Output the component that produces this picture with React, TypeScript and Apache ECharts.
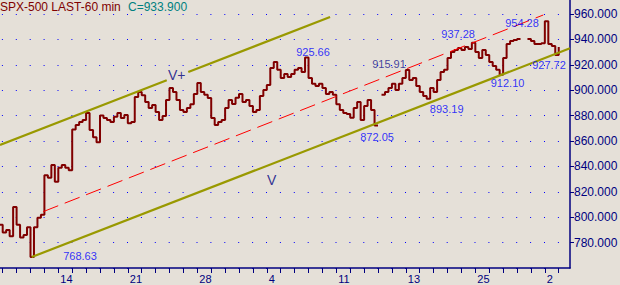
import React, { useEffect, useRef } from 'react';
import * as echarts from 'echarts';

// ---- text ----
const TITLE = 'SPX-500 LAST-60 min';
const LAST_CLOSE = 'C=933.900';

// ---- x axis (trading-day index, one tick per trading day) ----
const X_MIN_DAY = -0.194;
const X_MAX_DAY = 40.81;
const X_TICK_DAYS = [0,1,2,3,4,5,6,7,8,9,10,11,12,13,14,15,16,17,18,19,20,21,22,23,24,25,26,27,28,29,30,31,32,33,34,35,36,37,38,39,40];
const X_LABEL_DAYS = [4, 9, 14, 19, 24, 29, 34, 39];
const X_LABELS = ['14', '21', '28', '4', '11', '13', '25', '2'];

// ---- y axis ----
const Y_MIN = 760;
const Y_MAX = 980;
const Y_STEP = 20;
const Y_TOP_LABEL = 960;

// ---- 60-min price series, sampled every quarter trading day ----
const PRICE_START_DAY = -0.25;
const PRICE_STEP_DAYS = 0.25;
const PRICES: (number | null)[] = [
  794, 788, 790, 785, 808, 794, 784, 786, 792, 768.6,
  792, 799.5, 802, 833, 831, 841, 828, 839, 841, 839,
  837, 869, 872.6, 875, 876.6, 882, 868.7, 863, 859, 880,
  878, 876.6, 875, 879, 882, 878, 880.5, 874, 875, 894.7,
  898.6, 896, 890.7, 886, 888.4, 882.9, 876.6, 879.7, 892.3, 901.8,
  898.6, 892.3, 884.4, 882.9, 886, 889, 897, 905.7, 898.6, 896.3,
  893.9, 878, 872.6, 875, 876.6, 886, 892.3, 889.2, 894, 897,
  890.7, 892.3, 887.6, 882.9, 884.4, 895.5, 900.2, 904, 917.5, 922.2,
  916, 909.6, 912.8, 910.4, 912.8, 916, 917.5, 914.4, 925.7, 909.6,
  905, 903.3, 905, 901.8, 897, 898.6, 896.3, 889, 884.4, 882,
  881.3, 878.2, 886, 890.7, 876.6, 887.6, 892.3, 884.4, 872.1, null,
  896.3, 898.6, 901.8, 905, 900.2, 905, 909.6, 915.9, 908, 909.6,
  903.3, 898.6, 895.5, 893.2, 901.8, 898.6, 908, 914.4, 916, 925.4,
  930, 931.7, 933.2, 931.7, 934, 932.5, 937.3, 930, 925.4, 931.7,
  927.7, 922.2, 919.1, 916, 912.1, 925.4, 936.4, 938.7, 939.5, 940.3,
  null, null, 940.3, 938.7, 936.4, 936.4, 937, 954.3, 936.4, 934.8,
  927.7, 933.9,
];

// ---- trend channel (drawn lines) ----
const UPPER_X = [-0.194, 11.8, 12.5, 13.35, 23.55];
const UPPER_Y: (number | string)[] = [856.9, 907.8, '-', 914.3, 957.6];
const LOWER_X = [2.086, 40.81];
const LOWER_Y = [768.63, 933.0];
const MID_X = [2.92, 38.89];
const MID_Y = [804.4, 959.2];

// ---- price annotations ----
const ANNOT_TEXT = ['768.63', '925.66', '915.91', '872.05', '893.19', '937.28', '954.28', '912.10', '927.72'];
const ANNOT_X = [5.56, 22.32, 27.79, 26.93, 31.94, 32.76, 37.36, 36.32, 39.3];
const ANNOT_Y = [769.1, 929.7, 920.7, 863.2, 885.2, 944.3, 952.9, 905.7, 919.9];
const ANNOT_COLOR = ['#0000FF', '#0000FF', '#14148C', '#0000FF', '#0000FF', '#0000FF', '#0000FF', '#0000FF', '#0000FF'];

const CHANNEL_TEXT = ['V+', 'V'];
const CHANNEL_X = [12.52, 19.35];
const CHANNEL_Y = [912, 829.6];

const FONT = '"Liberation Sans", Arial, sans-serif';
const NAVY = '#000080';
const BG = '#E5E0D8';
const OLIVE = '#999900';

export default function App() {
  const ref = useRef<HTMLDivElement>(null);
  useEffect(() => {
    if (!ref.current) return;
    const chart = echarts.init(ref.current, undefined, { renderer: 'svg' });
    const priceData = PRICES.map((v, i) => [PRICE_START_DAY + i * PRICE_STEP_DAYS, v === null ? '-' : v]);
    chart.setOption({
      animation: false,
      backgroundColor: BG,
      grid: { left: 0, right: 50, top: -11.44, bottom: 17, containLabel: false, outerBoundsMode: 'none' },
      graphic: [
        { type: 'text', left: 0, top: 1, style: { text: TITLE, fill: '#800000', font: `12px ${FONT}` } },
        { type: 'text', left: 128, top: 1, style: { text: LAST_CLOSE, fill: '#008080', font: `12px ${FONT}` } },
      ],
      xAxis: {
        type: 'value',
        min: X_MIN_DAY,
        max: X_MAX_DAY,
        axisLine: { show: true, onZero: false, lineStyle: { color: NAVY, width: 1.5 } },
        axisTick: { show: true, customValues: X_TICK_DAYS, length: 5, lineStyle: { color: NAVY, width: 1 } },
        axisLabel: {
          customValues: X_LABEL_DAYS,
          formatter: (v: number) => {
            const k = X_LABEL_DAYS.indexOf(Math.round(v));
            return k >= 0 ? X_LABELS[k] : '';
          },
          align: 'left',
          padding: [0, 0, 0, 2],
          margin: 5,
          color: NAVY,
          fontSize: 11,
          fontFamily: FONT,
        },
        splitLine: { show: false },
      },
      yAxis: {
        type: 'value',
        position: 'right',
        min: Y_MIN,
        max: Y_MAX,
        interval: Y_STEP,
        axisLine: { show: true, onZero: false, lineStyle: { color: NAVY, width: 1.5 } },
        axisTick: { show: true, length: 4, lineStyle: { color: NAVY } },
        axisLabel: {
          margin: 4,
          color: NAVY,
          fontSize: 12,
          fontFamily: FONT,
          showMinLabel: false,
          showMaxLabel: false,
          formatter: (v: number) => (v <= Y_MIN || v > Y_TOP_LABEL ? '' : v.toFixed(3)),
        },
        splitLine: { show: true, lineStyle: { color: '#0000FF', width: 1, type: [1, 12.9], dashOffset: 11.7 } },
      },
      series: [
        {
          type: 'line',
          name: 'SPX',
          data: priceData,
          step: 'end',
          showSymbol: false,
          connectNulls: false,
          lineStyle: { color: '#800000', width: 2 },
          z: 2,
        },
        {
          type: 'line',
          name: 'upper',
          data: UPPER_X.map((x, i) => [x, UPPER_Y[i]]),
          showSymbol: false,
          connectNulls: false,
          lineStyle: { color: OLIVE, width: 2.2 },
          z: 3,
        },
        {
          type: 'line',
          name: 'lower',
          data: LOWER_X.map((x, i) => [x, LOWER_Y[i]]),
          showSymbol: false,
          lineStyle: { color: OLIVE, width: 2.2 },
          z: 3,
        },
        {
          type: 'line',
          name: 'mid',
          data: MID_X.map((x, i) => [x, MID_Y[i]]),
          showSymbol: false,
          lineStyle: { color: '#FF0000', width: 1, type: [16, 7] },
          z: 4,
        },
        {
          type: 'scatter',
          name: 'annotations',
          symbolSize: 0,
          z: 5,
          data: ANNOT_TEXT.map((t, i) => ({
            name: t,
            value: [ANNOT_X[i], ANNOT_Y[i]],
            label: { color: ANNOT_COLOR[i] },
          })),
          label: { show: true, position: 'inside', formatter: '{b}', fontSize: 11, fontFamily: FONT, color: '#0000FF' },
          emphasis: { disabled: true },
        },
        {
          type: 'scatter',
          name: 'channel labels',
          symbolSize: 0,
          z: 5,
          data: CHANNEL_TEXT.map((t, i) => ({ name: t, value: [CHANNEL_X[i], CHANNEL_Y[i]] })),
          label: { show: true, position: 'inside', formatter: '{b}', fontSize: 14, fontFamily: FONT, color: NAVY },
          emphasis: { disabled: true },
        },
      ],
    });
    return () => chart.dispose();
  }, []);
  return (
    <div
      ref={ref}
      style={{ position: 'fixed', left: 0, top: 0, width: 620, height: 285, background: BG }}
    />
  );
}
